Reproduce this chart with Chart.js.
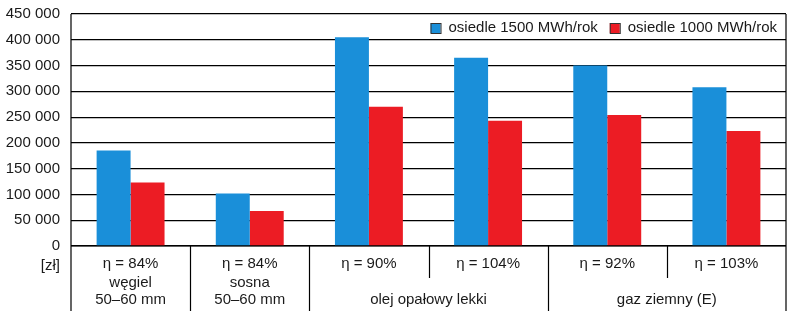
<!DOCTYPE html>
<html>
<head>
<meta charset="utf-8">
<script src="https://cdn.jsdelivr.net/npm/chart.js@4"></script>
<style>
html,body{margin:0;padding:0;background:#fff;}
#wrap{width:792px;height:324px;}
</style>
</head>
<body>
<div id="wrap"><canvas id="costChart" width="792" height="324"></canvas></div>
<script>
const etaLabels = ["η = 84%","η = 84%","η = 90%","η = 104%","η = 92%","η = 103%"];
const groupLabels = [["węgiel","50–60 mm"],["sosna","50–60 mm"],["olej opałowy lekki"],["gaz ziemny (E)"]];
const groupSpans = [1,1,2,2];
const seriesNames = ["osiedle 1500 MWh/rok","osiedle 1000 MWh/rok"];
const big = [185000,102000,405000,365000,350000,308000];
const small = [123000,68000,270000,243000,254000,223000];
const unitLabel = "[zł]";

const font = "'Liberation Sans Narrow','Liberation Sans',Arial,sans-serif";
const ink = "#1a1a1a";

// legend in the top band of the plot, right aligned
const insideLegend = {
id:"insideLegend",
afterDraw(chart){
const c = chart.ctx;
const area = chart.chartArea;
const y = area.top + 14;
c.save();
c.font = "15px " + font;
c.textBaseline = "middle";
c.textAlign = "left";
let right = area.right - 9;
for(let i = chart.data.datasets.length - 1; i >= 0; i--){
const d = chart.data.datasets[i];
const w = c.measureText(d.label).width;
const tx = right - w;
c.fillStyle = ink;
c.fillText(d.label, tx, y);
const bx = tx - 18;
c.fillStyle = d.backgroundColor;
c.fillRect(bx, y - 5, 10, 10);
c.strokeStyle = "#333";
c.lineWidth = 1;
c.strokeRect(bx + 0.5, y - 4.5, 10, 10);
right = bx - 12;
}
c.restore();
}
};

// separators, group names and unit under the axis
const bottomRows = {
id:"bottomRows",
afterDraw(chart){
const c = chart.ctx;
const x = chart.scales.x;
const area = chart.chartArea;
const half = (x.getPixelForValue(1) - x.getPixelForValue(0)) / 2;
const endY = 311;

c.save();
c.strokeStyle = "#000";
c.lineWidth = 1.2;

// left and right frame lines
c.beginPath();
c.moveTo(area.left, area.top); c.lineTo(area.left, endY);
c.moveTo(area.right, area.top); c.lineTo(area.right, endY);
c.moveTo(area.left, area.bottom); c.lineTo(area.right, area.bottom);
c.stroke();

// separators between categories
let idx = 0;
let bounds = new Set();
groupSpans.forEach(s => { idx += s; bounds.add(idx); });
for(let i = 1; i < etaLabels.length; i++){
const px = Math.round(x.getPixelForValue(i) - half) + 0.5;
c.beginPath();
c.moveTo(px, area.bottom);
c.lineTo(px, bounds.has(i) ? endY : 278);
c.stroke();
}

c.fillStyle = ink;
c.font = "15px " + font;
c.textAlign = "center";
c.textBaseline = "middle";

let start = 0;
groupLabels.forEach((lines, g) => {
const end = start + groupSpans[g] - 1;
const cx = (x.getPixelForValue(start) + x.getPixelForValue(end)) / 2;
if(lines.length === 2){
c.fillText(lines[0], cx, 283);
c.fillText(lines[1], cx, 300);
} else {
c.fillText(lines[0], cx, 300);
}
start = end + 1;
});

c.textAlign = "right";
c.fillText(unitLabel, 60, 266);
c.restore();
}
};

new Chart(document.getElementById("costChart"), {
type:"bar",
data:{
labels:etaLabels,
datasets:[
{label:seriesNames[0], data:big, backgroundColor:"#1a8fd9", borderWidth:0},
{label:seriesNames[1], data:small, backgroundColor:"#ec1c24", borderWidth:0}
]
},
options:{
responsive:false,
animation:false,
layout:{padding:{top:14,right:6,left:0,bottom:0}},
datasets:{bar:{categoryPercentage:0.57, barPercentage:1}},
plugins:{
legend:{display:false},
tooltip:{enabled:false}
},
scales:{
x:{
grid:{display:false, drawTicks:false},
border:{display:false},
ticks:{font:{family:font, size:15}, color:ink, padding:9},
afterFit(s){ s.height = 78; }
},
y:{
min:0,
max:450000,
grid:{color:"#000", lineWidth:1.2, drawTicks:false},
border:{display:false},
ticks:{
stepSize:50000,
font:{family:font, size:15},
color:ink,
padding:11,
callback:v => v.toString().replace(/\B(?=(\d{3})+(?!\d))/g, " ")
},
afterFit(s){ s.width = 71; s.paddingTop = 0; s.paddingBottom = 0; }
}
}
},
plugins:[insideLegend, bottomRows]
});
</script>
</body>
</html>
